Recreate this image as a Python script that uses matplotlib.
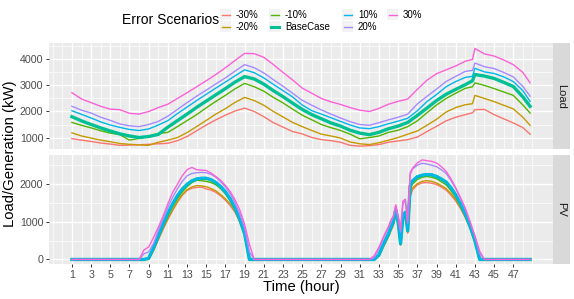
import matplotlib
matplotlib.use("Agg")
import matplotlib.pyplot as plt
from matplotlib.patches import Rectangle
from matplotlib.lines import Line2D

plt.rcParams['font.family'] = ['Liberation Sans', 'DejaVu Sans']

# ---------------- data ----------------
scenarios = ['-30%', '-20%', '-10%', 'BaseCase', '10%', '20%', '30%']
colors = ['#F8766D', '#C49A00', '#53B400', '#00C094', '#00B6EB', '#A58AFF', '#FB61D7']

load_hours = list(range(1, 43)) + [42.75, 43, 44, 45, 46, 47, 48, 48.75]

load_m30 = [960, 900, 850, 790, 750, 700, 710, 720, 740, 760,
            780, 880, 1040, 1260, 1480, 1680, 1860, 2020, 2130, 2000,
            1800, 1570, 1400, 1230, 1140, 1000, 920, 880, 820, 700,
            670, 690, 730, 820, 870, 920, 1020, 1230, 1430, 1640,
            1780, 1880, 1950, 2070, 2080, 1880, 1720, 1560, 1380, 1130]
load_m20 = [1180, 1060, 980, 900, 840, 770, 740, 720, 700, 820,
            900, 1000, 1190, 1420, 1660, 1900, 2110, 2350, 2540, 2420,
            2240, 2000, 1790, 1580, 1420, 1270, 1130, 1060, 980, 830,
            760, 730, 800, 900, 1000, 1130, 1250, 1470, 1700, 1980,
            2150, 2260, 2300, 2620, 2500, 2380, 2240, 2100, 1780, 1470]
load_m10 = [1580, 1470, 1370, 1260, 1170, 1110, 900, 970, 1050, 1150,
            1200, 1420, 1650, 1880, 2140, 2390, 2620, 2870, 3080, 2950,
            2780, 2540, 2330, 2090, 1860, 1680, 1500, 1380, 1270, 1130,
            950, 1000, 1060, 1200, 1280, 1420, 1640, 1950, 2250, 2500,
            2700, 2890, 2950, 3100, 3000, 2880, 2750, 2620, 2250, 1940]
load_base = [1800, 1640, 1500, 1370, 1250, 1140, 1060, 1000, 1040, 1120,
             1400, 1650, 1900, 2160, 2400, 2640, 2880, 3130, 3340, 3250,
             3050, 2800, 2570, 2320, 2080, 1880, 1720, 1560, 1440, 1280,
             1170, 1110, 1200, 1340, 1440, 1580, 1850, 2130, 2420, 2660,
             2850, 3030, 3180, 3420, 3360, 3270, 3120, 2960, 2560, 2200]
load_p10 = [2030, 1890, 1750, 1600, 1480, 1390, 1310, 1270, 1330, 1480,
            1650, 1920, 2170, 2420, 2660, 2900, 3130, 3370, 3600, 3490,
            3290, 3040, 2800, 2560, 2250, 2030, 1900, 1760, 1620, 1480,
            1370, 1340, 1420, 1530, 1630, 1740, 2030, 2380, 2650, 2950,
            3150, 3310, 3350, 3660, 3520, 3460, 3330, 3150, 2800, 2390]
load_p20 = [2200, 2050, 1940, 1780, 1660, 1520, 1450, 1420, 1500, 1620,
            1820, 2080, 2340, 2590, 2820, 3060, 3290, 3550, 3800, 3680,
            3480, 3220, 2970, 2700, 2430, 2240, 2060, 1900, 1750, 1610,
            1500, 1470, 1570, 1680, 1780, 1900, 2290, 2580, 2860, 3150,
            3350, 3540, 3580, 3860, 3720, 3650, 3500, 3330, 2960, 2590]
load_p30 = [2720, 2480, 2340, 2200, 2090, 2070, 1930, 1900, 2000, 2150,
            2280, 2500, 2720, 2950, 3180, 3420, 3680, 3960, 4230, 4220,
            4080, 3800, 3500, 3210, 2900, 2700, 2500, 2370, 2270, 2150,
            2050, 2000, 2120, 2280, 2390, 2480, 2850, 3200, 3450, 3600,
            3750, 3930, 4000, 4420, 4210, 4130, 3980, 3800, 3500, 3100]

pv_hours = [1, 8, 8.5, 9, 9.5, 10, 10.5, 11, 11.5, 12, 12.5, 13, 13.5, 14, 14.5,
            15, 15.5, 16, 16.5, 17, 17.5, 18, 18.5, 19, 19.5, 20,
            32, 32.5, 33, 33.5, 34, 34.25, 34.5, 34.75, 35, 35.25, 35.5, 35.75,
            36, 36.25, 36.5, 37, 37.5, 38, 38.5, 39, 39.5, 40, 40.5, 41, 41.5,
            42, 42.5, 43, 43.5, 44, 48.75]

pv_m30 = [0, 0, 0, 10, 230, 520, 800, 1060, 1300, 1520, 1700, 1830, 1890, 1910, 1920,
          1870, 1840, 1780, 1690, 1570, 1430, 1250, 990, 640, 0, 0,
          0, 0, 90, 350, 600, 760, 900, 1180, 900, 380, 1050, 1150,
          700, 1650, 1850, 1980, 2030, 2040, 2020, 1990, 1920, 1840, 1710, 1550, 1350,
          1110, 820, 460, 0, 0, 0]
pv_m20 = [0, 0, 0, 10, 240, 540, 830, 1090, 1320, 1540, 1720, 1850, 1920, 1960, 1950,
          1930, 1880, 1820, 1720, 1610, 1470, 1280, 1010, 650, 0, 0,
          0, 0, 90, 360, 620, 780, 930, 1220, 930, 390, 1080, 1180,
          720, 1720, 1900, 2010, 2070, 2090, 2070, 2030, 1960, 1880, 1750, 1590, 1380,
          1130, 830, 470, 0, 0, 0]
pv_m10 = [0, 0, 0, 20, 270, 580, 880, 1160, 1400, 1610, 1790, 1930, 2040, 2100, 2090,
          2070, 2040, 1980, 1880, 1740, 1560, 1330, 1040, 660, 0, 0,
          0, 0, 100, 380, 640, 800, 960, 1250, 960, 400, 1100, 1200,
          740, 1880, 2000, 2120, 2180, 2200, 2180, 2140, 2060, 1980, 1830, 1650, 1420,
          1160, 850, 480, 0, 0, 0]
pv_base = [0, 0, 0, 30, 300, 620, 930, 1220, 1470, 1690, 1860, 1990, 2080, 2130, 2150,
           2150, 2110, 2040, 1930, 1790, 1600, 1360, 1060, 680, 0, 0,
           0, 0, 120, 420, 680, 850, 1000, 1320, 1000, 420, 1150, 1250,
           760, 1950, 2080, 2190, 2230, 2250, 2240, 2200, 2130, 2050, 1900, 1710, 1470,
           1200, 880, 500, 0, 0, 0]
pv_p10 = [0, 0, 0, 40, 310, 630, 940, 1230, 1480, 1700, 1870, 2000, 2090, 2140, 2160,
          2160, 2120, 2050, 1940, 1800, 1610, 1370, 1070, 690, 0, 0,
          0, 0, 130, 430, 690, 860, 1010, 1330, 1010, 430, 1160, 1260,
          770, 1960, 2090, 2200, 2240, 2260, 2250, 2210, 2140, 2060, 1910, 1720, 1480,
          1210, 890, 510, 0, 0, 0]
pv_p20 = [0, 0, 150, 200, 420, 760, 1080, 1380, 1650, 1880, 2070, 2220, 2280, 2300, 2310,
          2300, 2260, 2180, 2060, 1920, 1740, 1500, 1200, 830, 200, 0,
          0, 50, 280, 580, 850, 1000, 1120, 1420, 1100, 720, 1480, 1560,
          950, 2250, 2400, 2500, 2550, 2530, 2500, 2460, 2380, 2280, 2100, 1880, 1620,
          1330, 980, 620, 150, 0, 0]
pv_p30 = [0, 0, 250, 330, 580, 850, 1150, 1480, 1780, 2000, 2220, 2380, 2440, 2380, 2370,
          2360, 2290, 2200, 2100, 1960, 1800, 1580, 1310, 930, 400, 0,
          0, 100, 330, 620, 880, 1050, 1150, 1450, 1150, 800, 1550, 1600,
          1000, 2300, 2420, 2560, 2640, 2620, 2600, 2560, 2460, 2340, 2140, 1900, 1640,
          1360, 1000, 620, 220, 0, 0]

load_series = [load_m30, load_m20, load_m10, load_base, load_p10, load_p20, load_p30]
pv_series = [pv_m30, pv_m20, pv_m10, pv_base, pv_p10, pv_p20, pv_p30]

x_major = list(range(1, 48, 2))
x_minor = [-1, 0] + list(range(2, 50, 2)) + [49]
load_major = [1000, 2000, 3000, 4000]
load_minor = [1500, 2500, 3500, 4500]
pv_major = [0, 1000, 2000]
pv_minor = [500, 1500, 2500]

# ---------------- layout ----------------
W, H = 574, 299
fig = plt.figure(figsize=(W / 100, H / 100), dpi=100)
fig.patch.set_facecolor('white')


def fx(px):
    return px / W


def fy(py):
    return 1 - py / H


PL, PR = 49, 553
ax_load = fig.add_axes([fx(PL), fy(149), fx(PR) - fx(PL), fy(43) - fy(149)])
ax_pv = fig.add_axes([fx(PL), fy(264), fx(PR) - fx(PL), fy(155) - fy(264)])

GRID_BG = '#EBEBEB'
TICK_COL = '#4D4D4D'


def style_axis(ax, ymaj, ymin, ylim, show_x):
    ax.set_facecolor(GRID_BG)
    for s in ax.spines.values():
        s.set_visible(False)
    ax.set_xlim(-1.39, 51.14)
    ax.set_ylim(*ylim)
    ax.set_xticks(x_major)
    ax.set_xticks(x_minor, minor=True)
    ax.set_yticks(ymaj)
    ax.set_yticks(ymin, minor=True)
    ax.grid(which='major', color='white', linewidth=1.0)
    ax.grid(which='minor', color='white', linewidth=0.5)
    ax.set_axisbelow(True)
    ax.tick_params(which='minor', length=0)
    ax.tick_params(axis='y', which='major', length=2.5, width=0.7, color='#333333',
                   labelsize=7.7, labelcolor=TICK_COL, pad=1.5)
    if show_x:
        ax.tick_params(axis='x', which='major', length=2.5, width=0.7, color='#333333',
                       labelsize=7.7, labelcolor=TICK_COL, pad=1.5)
    else:
        ax.tick_params(axis='x', which='major', length=0, labelbottom=False)


style_axis(ax_load, load_major, load_minor, (560, 4630), False)
style_axis(ax_pv, pv_major, pv_minor, (-120, 2770), True)

for vals, col, lab in zip(load_series, colors, scenarios):
    lw = 2.4 if lab == 'BaseCase' else 1.0
    ax_load.plot(load_hours, vals, color=col, linewidth=lw, solid_joinstyle='round')
for vals, col, lab in zip(pv_series, colors, scenarios):
    if lab == 'BaseCase':
        lw = 2.4
    elif lab == '10%':
        lw = 1.8
    else:
        lw = 1.0
    ax_pv.plot(pv_hours, vals, color=col, linewidth=lw, solid_joinstyle='round')

# strips
for (top, bot, txt) in [(43, 149, 'Load'), (155, 264, 'PV')]:
    sax = fig.add_axes([fx(PR), fy(bot), fx(570) - fx(PR), fy(top) - fy(bot)])
    sax.set_facecolor('#D9D9D9')
    sax.set_xticks([])
    sax.set_yticks([])
    for s in sax.spines.values():
        s.set_visible(False)
    sax.text(0.5, 0.5, txt, rotation=-90, ha='center', va='center',
             fontsize=8, color='#1A1A1A', transform=sax.transAxes)

# axis titles
fig.text(fx(10), fy(153.5), 'Load/Generation (kW)', rotation=90, ha='center',
         va='center', fontsize=10.7, color='black')
fig.text(fx(301), fy(287), 'Time (hour)', ha='center', va='center',
         fontsize=10.7, color='black')

# legend (top)
fig.text(fx(122), fy(20.5), 'Error Scenarios', ha='left', va='center',
         fontsize=10, color='black')
key_x = [220, 269, 342, 387]
row_y = [14.5, 26.5]
for i, (lab, col) in enumerate(zip(scenarios, colors)):
    c, r = i // 2, i % 2
    kx, ky = key_x[c], row_y[r]
    fig.patches.append(Rectangle((fx(kx), fy(ky + 5.5)), fx(11), 11 / H,
                                 transform=fig.transFigure, facecolor='#F2F2F2',
                                 edgecolor='none'))
    lw = 2.2 if lab == 'BaseCase' else 1.0
    fig.lines.append(Line2D([fx(kx + 1.5), fx(kx + 9.5)], [fy(ky), fy(ky)],
                            transform=fig.transFigure, color=col, linewidth=lw))
    fig.text(fx(kx + 16), fy(ky), lab, ha='left', va='center', fontsize=7,
             color='black')

fig.savefig('out.png', dpi=100)
